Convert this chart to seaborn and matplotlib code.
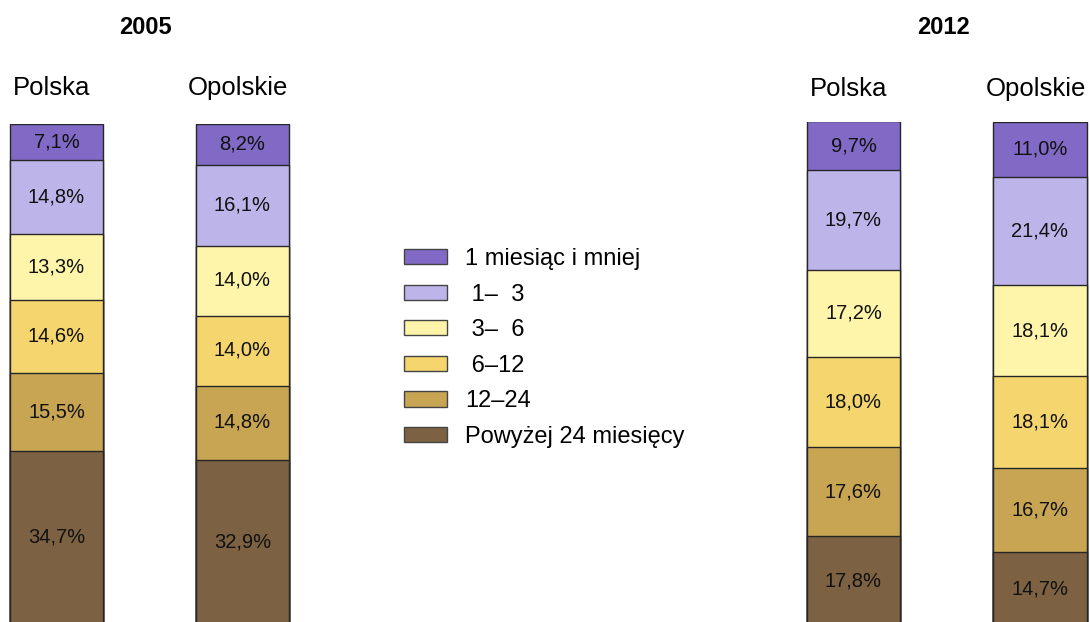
import pandas as pd
import seaborn as sns
import matplotlib.pyplot as plt
from matplotlib.patches import Patch
from matplotlib.transforms import ScaledTranslation

# data (top of bar -> bottom of bar)
categories = ['1 miesiąc i mniej', ' 1–  3', ' 3–  6', ' 6–12', '12–24', 'Powyżej 24 miesięcy']
regions = ['Polska', 'Opolskie']
years = ['2005', '2012']
values_2005_polska = [7.1, 14.8, 13.3, 14.6, 15.5, 34.7]
values_2005_opolskie = [8.2, 16.1, 14.0, 14.0, 14.8, 32.9]
values_2012_polska = [9.7, 19.7, 17.2, 18.0, 17.6, 17.8]
values_2012_opolskie = [11.0, 21.4, 18.1, 18.1, 16.7, 14.7]

colors = ['#806AC6', '#BDB4E9', '#FFF5AA', '#F5D66E', '#C8A553', '#7C6242']

sns.set_style('white')
plt.rcParams['font.family'] = ['Liberation Sans', 'DejaVu Sans']
plt.rcParams['text.color'] = 'black'

W, H = 1090, 622
fig = plt.figure(figsize=(W / 100, H / 100), dpi=100)


def make_df(vals_by_region):
    rows = []
    for region, vals in zip(regions, vals_by_region):
        # cumulative from the bottom of the bar
        cum = 0
        for cat, v in zip(categories[::-1], vals[::-1]):
            cum += v
            rows.append({'region': region, 'category': cat, 'value': v, 'cum': cum})
    return pd.DataFrame(rows)


def stacked(ax, df):
    # draw tallest layer first, each lower layer covers it
    for cat, col in zip(categories, colors):
        sub = df[df['category'] == cat]
        sns.barplot(data=sub, x='region', y='cum', order=regions, color=col,
                    saturation=1, width=0.5, errorbar=None,
                    edgecolor='#262626', linewidth=1.0, ax=ax)
    for i, region in enumerate(regions):
        sub = df[df['region'] == region]
        for _, r in sub.iterrows():
            ax.text(i, r['cum'] - r['value'] / 2, f"{r['value']:.1f}%".replace('.', ','),
                    ha='center', va='center', fontsize=14.5, color='#111111')
    ax.set_xlim(-0.3, 1.3)
    ax.set_ylim(0, 100)
    ax.set_xlabel('')
    ax.set_ylabel('')
    ax.set_yticks([])
    ax.xaxis.tick_top()
    ax.tick_params(axis='x', length=0, labelsize=18.5, labelcolor='black')
    for s in ax.spines.values():
        s.set_visible(False)
    ax.patch.set_alpha(0)


# axes placed in pixel terms: (left, bottom-of-zero, width, top-of-100)
ax1 = fig.add_axes([0.8 / W, -2 / H, 297.2 / W, 500 / H])
stacked(ax1, make_df([values_2005_polska, values_2005_opolskie]))
ax1.tick_params(axis='x', pad=17)

ax2 = fig.add_axes([797.5 / W, -4 / H, 298.4 / W, 504.5 / H])
stacked(ax2, make_df([values_2012_polska, values_2012_opolskie]))
ax2.tick_params(axis='x', pad=15)

# region names sit a little left of the bar centres
shift = ScaledTranslation(-4.5 / 100, 0, fig.dpi_scale_trans)
for ax in (ax1, ax2):
    for lab in ax.get_xticklabels():
        lab.set_transform(lab.get_transform() + shift)

fig.text(145 / W, 1 - 28 / H, years[0], ha='center', va='center', fontsize=17, fontweight='bold')
fig.text(944 / W, 1 - 28 / H, years[1], ha='center', va='center', fontsize=17, fontweight='bold')

handles = [Patch(facecolor=c, edgecolor='#444444', linewidth=1.0) for c in colors]
fig.legend(handles, categories, loc='upper left', bbox_to_anchor=(404 / W, 1 - 248 / H),
           frameon=False, fontsize=17, handlelength=1.8, handleheight=0.62,
           handletextpad=0.8, labelspacing=0.575, borderpad=0, borderaxespad=0)

fig.savefig('out.png', dpi=100)
